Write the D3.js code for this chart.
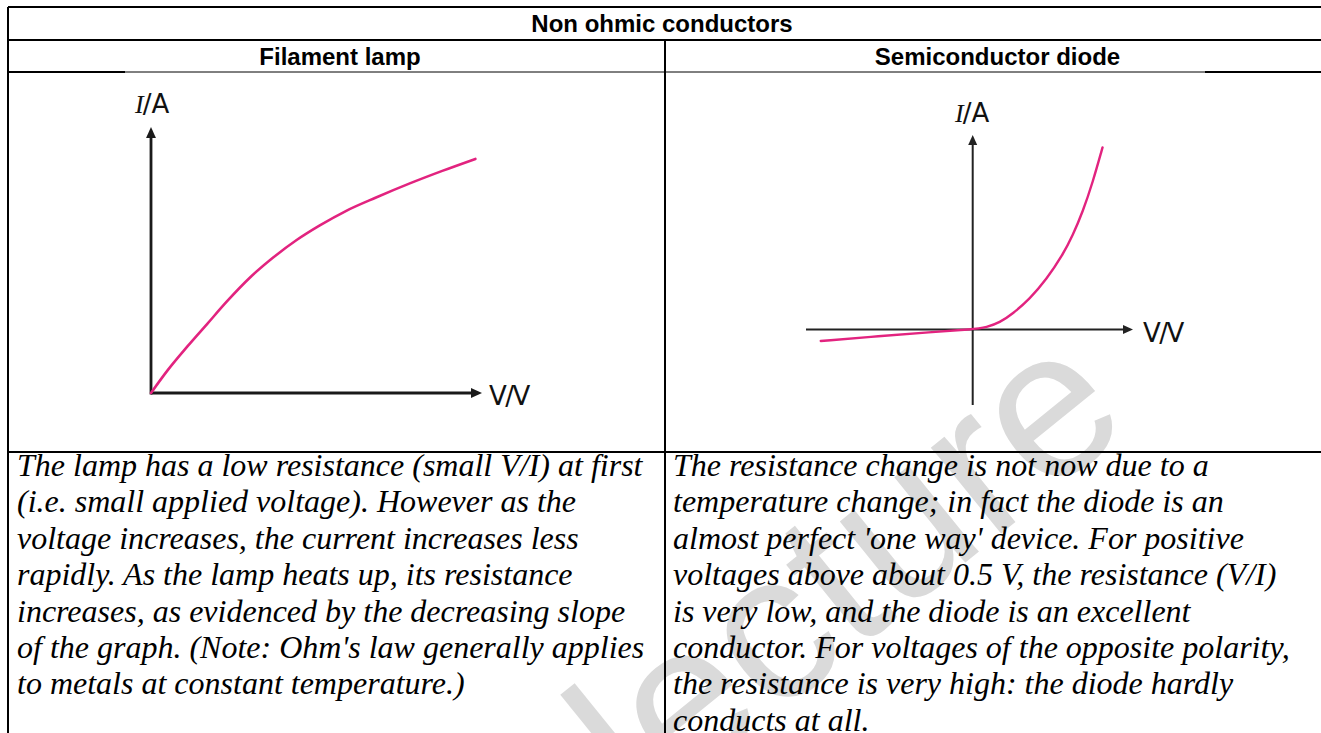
<!DOCTYPE html>
<html>
<head>
<meta charset="utf-8">
<script src="https://cdn.jsdelivr.net/npm/d3@7"></script>
<style>
html,body{margin:0;padding:0;background:#fff;overflow:hidden;}
svg{display:block;}
</style>
</head>
<body>
<svg id="chart" width="1321" height="733"></svg>
<script>
// ---------- data ----------
const tableTitle = "Non ohmic conductors";
const columnTitles = ["Filament lamp", "Semiconductor diode"];

// Filament lamp I-V curve (arbitrary units)
const lampV = [0, 0.5, 1.1, 1.7, 2.3, 3.0, 3.7, 4.4, 5.1, 5.9, 6.8, 7.8, 8.8, 9.8];
const lampI = [0, 0.85, 1.75, 2.6, 3.45, 4.35, 5.1, 5.75, 6.3, 6.85, 7.35, 7.87, 8.35, 8.8];
const lampAxisV = [0, 10];
const lampAxisI = [0, 10];

// Diode I-V curve
const diodeV = [-4.74, -2.9, -1.34, 0, 0.44, 0.84, 1.25, 1.78, 2.3, 2.81, 3.12, 3.43, 3.74, 4.05];
const diodeI = [-0.43, -0.25, -0.10, 0, 0.08, 0.25, 0.58, 1.13, 1.85, 2.76, 3.48, 4.35, 5.43, 6.74];
const diodeAxisV = [-5.2, 5];
const diodeAxisI = [-2.8, 7.2];

const axisLabelY = ["I", "/A"];
const axisLabelX = "V/V";

const lampText = [
  "The lamp has a low resistance (small V/I) at first",
  "(i.e. small applied voltage). However as the",
  "voltage increases, the current increases less",
  "rapidly. As the lamp heats up, its resistance",
  "increases, as evidenced by the decreasing slope",
  "of the graph. (Note: Ohm's law generally applies",
  "to metals at constant temperature.)"
];
const diodeText = [
  "The resistance change is not now due to a",
  "temperature change; in fact the diode is an",
  "almost perfect 'one way' device. For positive",
  "voltages above about 0.5 V, the resistance (V/I)",
  "is very low, and the diode is an excellent",
  "conductor. For voltages of the opposite polarity,",
  "the resistance is very high: the diode hardly",
  "conducts at all."
];
const watermark = "lecture";

// ---------- layout ----------
const svg = d3.select("#chart");
const L = 8, MID = 665, R = 1330;
const rowY = [7, 40, 72, 452, 760];
const curveColor = "#e2237f";

// watermark (behind everything)
svg.append("text")
  .attr("transform", "translate(645,822) rotate(-39)")
  .attr("font-family", "Liberation Sans, Arial, sans-serif")
  .attr("font-size", 210)
  .attr("fill", "#dadada")
  .text(watermark);

// table grid
const grid = svg.append("g").attr("stroke", "#000").attr("stroke-width", 2);
[rowY[0], rowY[1], rowY[3]].forEach(y => {
  grid.append("line").attr("x1", L).attr("x2", R).attr("y1", y).attr("y2", y);
});
// row-2 bottom line, partly covered by the pictures
grid.append("line").attr("x1", L).attr("x2", 125).attr("y1", rowY[2]).attr("y2", rowY[2]);
grid.append("line").attr("x1", 1205).attr("x2", R).attr("y1", rowY[2]).attr("y2", rowY[2]);
grid.append("line").attr("x1", 125).attr("x2", 1205).attr("y1", rowY[2]).attr("y2", rowY[2]).attr("stroke-width", 1);
grid.append("line").attr("x1", L).attr("x2", L).attr("y1", rowY[0]).attr("y2", rowY[4]);
grid.append("line").attr("x1", MID).attr("x2", MID).attr("y1", rowY[1]).attr("y2", rowY[4]);

// headers
svg.append("text")
  .attr("x", 662).attr("y", (rowY[0] + rowY[1]) / 2 + 8.5)
  .attr("text-anchor", "middle")
  .attr("font-family", "Liberation Sans, Arial, sans-serif")
  .attr("font-weight", "bold").attr("font-size", 24)
  .text(tableTitle);
const colCenters = [340, (MID + R) / 2];
svg.selectAll(".colTitle").data(columnTitles).join("text")
  .attr("class", "colTitle")
  .attr("x", (d, i) => colCenters[i]).attr("y", (rowY[1] + rowY[2]) / 2 + 8.5)
  .attr("text-anchor", "middle")
  .attr("font-family", "Liberation Sans, Arial, sans-serif")
  .attr("font-weight", "bold").attr("font-size", 24)
  .text(d => d);

// arrow head helper
function arrowHead(g, x, y, dir, size, color) {
  const s = size;
  let pts;
  if (dir === "up") pts = [[x, y], [x - s * 0.45, y + s], [x + s * 0.45, y + s]];
  else pts = [[x, y], [x - s, y - s * 0.45], [x - s, y + s * 0.45]];
  g.append("path").attr("d", "M" + pts.map(p => p.join(",")).join("L") + "Z").attr("fill", color);
}

function yLabel(g, x, y) {
  const t = g.append("text").attr("x", x).attr("y", y).attr("font-size", 26).attr("fill", "#111");
  t.append("tspan").attr("font-family", "Liberation Serif, serif").attr("font-style", "italic").text(axisLabelY[0]);
  t.append("tspan").attr("font-family", "DejaVu Sans, sans-serif").attr("dx", -1).text(axisLabelY[1]);
}
function xLabel(g, x, y) {
  g.append("text").attr("x", x).attr("y", y).attr("font-size", 26).attr("fill", "#111")
    .attr("font-family", "DejaVu Sans, sans-serif").attr("letter-spacing", -1.5).text(axisLabelX);
}

// ---------- lamp graph ----------
{
  const g = svg.append("g");
  const x = d3.scaleLinear().domain(lampAxisV).range([151, 482]);
  const y = d3.scaleLinear().domain(lampAxisI).range([393, 127]);
  const axisColor = "#1a1a1a";
  g.append("line").attr("x1", x(lampAxisV[0])).attr("x2", x(lampAxisV[1]) - 8)
    .attr("y1", y(0)).attr("y2", y(0)).attr("stroke", axisColor).attr("stroke-width", 2.8);
  g.append("line").attr("x1", x(0)).attr("x2", x(0))
    .attr("y1", y(lampAxisI[0]) + 1.4).attr("y2", y(lampAxisI[1]) + 8).attr("stroke", axisColor).attr("stroke-width", 2.8);
  arrowHead(g, x(lampAxisV[1]), y(0), "right", 11, axisColor);
  arrowHead(g, x(0), y(lampAxisI[1]), "up", 11, axisColor);
  const pts = lampV.map((v, i) => [v, lampI[i]]);
  g.append("path").datum(pts)
    .attr("d", d3.line().x(d => x(d[0])).y(d => y(d[1])).curve(d3.curveMonotoneX))
    .attr("fill", "none").attr("stroke", curveColor).attr("stroke-width", 2.6).attr("stroke-linecap", "round");
  yLabel(g, 135, 113);
  xLabel(g, 489, 405);
}

// ---------- diode graph ----------
{
  const g = svg.append("g");
  const x = d3.scaleLinear().domain(diodeAxisV).range([806, 1133]);
  const y = d3.scaleLinear().domain(diodeAxisI).range([405, 135]);
  const axisColor = "#222";
  g.append("line").attr("x1", x(diodeAxisV[0])).attr("x2", x(diodeAxisV[1]) - 8)
    .attr("y1", y(0)).attr("y2", y(0)).attr("stroke", axisColor).attr("stroke-width", 2);
  g.append("line").attr("x1", x(0)).attr("x2", x(0))
    .attr("y1", y(diodeAxisI[0])).attr("y2", y(diodeAxisI[1]) + 8).attr("stroke", axisColor).attr("stroke-width", 2);
  arrowHead(g, x(diodeAxisV[1]), y(0), "right", 10, axisColor);
  arrowHead(g, x(0), y(diodeAxisI[1]), "up", 10, axisColor);
  const pts = diodeV.map((v, i) => [v, diodeI[i]]);
  g.append("path").datum(pts)
    .attr("d", d3.line().x(d => x(d[0])).y(d => y(d[1])).curve(d3.curveBasis))
    .attr("fill", "none").attr("stroke", curveColor).attr("stroke-width", 2.4).attr("stroke-linecap", "round");
  yLabel(g, 955, 122);
  xLabel(g, 1143, 342);
}

// ---------- description text ----------
function para(lines, x0) {
  svg.append("g").selectAll("text").data(lines).join("text")
    .attr("x", x0).attr("y", (d, i) => 476 + i * 36.4)
    .attr("font-family", "Liberation Serif, 'Times New Roman', serif")
    .attr("font-style", "italic").attr("font-size", 32)
    .attr("fill", "#000")
    .text(d => d);
}
para(lampText, 17);
para(diodeText, 673);
</script>
</body>
</html>
